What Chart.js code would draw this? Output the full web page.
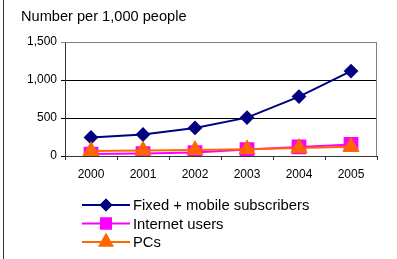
<!DOCTYPE html>
<html>
  <head>
    <meta charset="utf-8">
    <script src="https://cdn.jsdelivr.net/npm/chart.js@4.4.0/dist/chart.umd.min.js"></script>
    <style>
      html, body { margin: 0; padding: 0; background: #fff; }
      #wrap { position: relative; width: 397px; height: 259px; overflow: hidden; }
      #edge { position: absolute; left: 3px; top: 0; width: 1px; height: 259px; background: #333; }
      #title { position: absolute; left: 21px; top: 8px; font: 14.6px "Liberation Sans", Arial, sans-serif; color: #000; }
    </style>
  </head>
  <body>
    <div id="wrap">
      <canvas id="myChart" width="397" height="259"></canvas>
      <div id="edge"></div>
      <div id="title">Number per 1,000 people</div>
    </div>
    <script>
      // values
      const years = ['2000', '2001', '2002', '2003', '2004', '2005'];
      const fixedMobile = [244, 283, 369, 505, 782, 1117];
      const internetUsers = [25, 33, 45, 85, 120, 152];
      const pcs = [65, 72, 80, 90, 105, 122];
      const yTicks = [0, 500, 1000, 1500];

      const font = '"Liberation Sans", Arial, sans-serif';

      // grey frame round the plot area
      const frame = {
        id: 'frame',
        beforeDatasetsDraw(chart) {
          const a = chart.chartArea, ctx = chart.ctx;
          ctx.save();
          ctx.strokeStyle = '#808080';
          ctx.lineWidth = 1;
          ctx.beginPath();
          ctx.moveTo(a.left, a.top + 0.5);
          ctx.lineTo(a.right - 0.5, a.top + 0.5);
          ctx.lineTo(a.right - 0.5, a.bottom);
          ctx.stroke();
          ctx.restore();
        }
      };

      // legend under the axis: line with marker, then label
      const lineLegend = {
        id: 'lineLegend',
        afterDraw(chart) {
          const ctx = chart.ctx;
          const sizes = [5, 7, 7];
          ctx.save();
          chart.data.datasets.forEach((ds, i) => {
            const y = 205 + i * 18.5;
            ctx.strokeStyle = ds.borderColor;
            ctx.lineWidth = 2;
            ctx.beginPath();
            ctx.moveTo(82, y);
            ctx.lineTo(130, y);
            ctx.stroke();
            ctx.fillStyle = ds.backgroundColor;
            Chart.helpers.drawPoint(ctx, { pointStyle: ds.pointStyle, radius: sizes[i], borderWidth: 1 }, 106, y);
            ctx.fill();
            ctx.stroke();
            ctx.fillStyle = '#000';
            ctx.font = '14.8px ' + font;
            ctx.textBaseline = 'middle';
            ctx.fillText(ds.label, 133, y + 1);
          });
          ctx.restore();
        }
      };

      const data = {
        labels: years,
        datasets: [
          {
            label: 'Fixed + mobile subscribers',
            data: fixedMobile,
            borderColor: '#000080',
            backgroundColor: '#000080',
            borderWidth: 2,
            pointStyle: 'rectRot',
            pointRadius: 6,
            pointHoverRadius: 6,
            order: 2
          },
          {
            label: 'Internet users',
            data: internetUsers,
            borderColor: '#ff00ff',
            backgroundColor: '#ff00ff',
            borderWidth: 2,
            pointStyle: 'rect',
            pointRadius: 9,
            pointHoverRadius: 9,
            order: 1
          },
          {
            label: 'PCs',
            data: pcs,
            borderColor: '#ff6600',
            backgroundColor: '#ff6600',
            borderWidth: 2,
            pointStyle: 'triangle',
            pointRadius: 8,
            pointHoverRadius: 8,
            order: 0
          }
        ]
      };

      const config = {
        type: 'line',
        data: data,
        options: {
          responsive: false,
          animation: false,
          layout: { padding: { left: 5, right: 20, top: 42, bottom: 0 } },
          plugins: {
            legend: { display: false },
            tooltip: { enabled: false }
          },
          scales: {
            x: {
              offset: true,
              afterFit(s) { s.height = 103; },
              grid: { offset: true, drawOnChartArea: false, tickLength: 4, color: '#333' },
              border: { color: '#333', width: 1 },
              ticks: { color: '#000', padding: 7, font: { family: font, size: 12 } }
            },
            y: {
              min: 0,
              max: 1500,
              afterFit(s) { s.width = 60; },
              afterBuildTicks(s) { s.ticks = yTicks.map(v => ({ value: v })); },
              grid: {
                tickLength: 4,
                color: c => c.tick && c.tick.value === 1500 ? '#808080' : '#000'
              },
              border: { color: '#333', width: 1 },
              ticks: {
                color: '#000',
                padding: 4,
                font: { family: font, size: 12 },
                callback: v => v.toLocaleString('en-US')
              }
            }
          }
        },
        plugins: [frame, lineLegend]
      };

      var myChart = new Chart(document.getElementById('myChart'), config);
    </script>
  </body>
</html>
